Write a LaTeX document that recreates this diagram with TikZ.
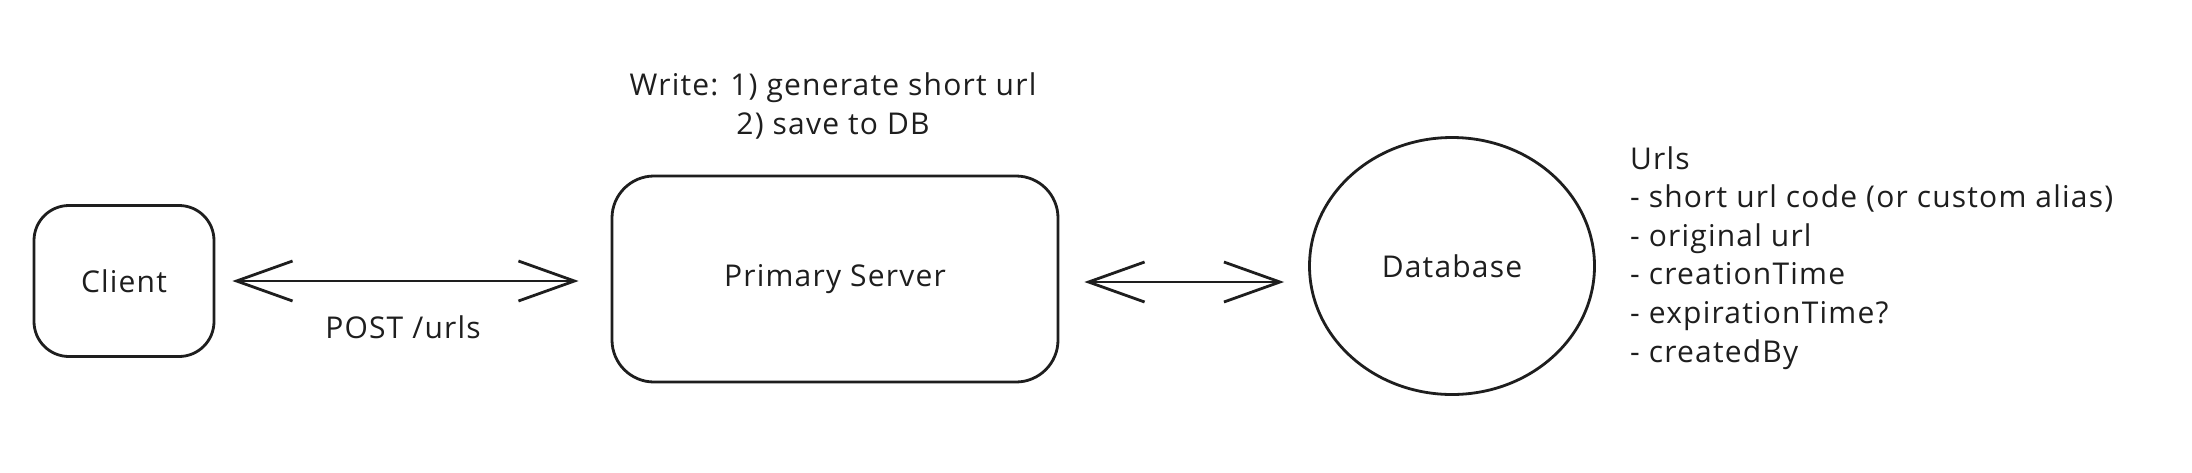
\documentclass[tikz,border=0pt]{standalone}
\usepackage{fontspec}
\setmainfont[Ligatures=NoCommon, LetterSpace=4]{Open Sans}
\usetikzlibrary{arrows.meta,shapes.geometric}
\definecolor{ink}{HTML}{1E1E1E}
\tikzset{
  sketch/.style={draw=ink, line width=2.8pt, line cap=round, line join=round},
  boxnode/.style={sketch, rectangle, text=ink},
  txt/.style={font=\fontsize{30}{38.6}\selectfont},
  lbl/.style={txt, text=ink, inner sep=0pt},
  arr/.style={sketch, {Straight Barb[length=56pt,width=40pt,line width=2.8pt]}-{Straight Barb[length=56pt,width=40pt,line width=2.8pt]}}
}
\begin{document}
\begin{tikzpicture}[x=1pt,y=-1pt]
\useasboundingbox[fill=white] (0,0) rectangle (2192,472);
\node[boxnode, txt, minimum width=180pt, minimum height=151pt, rounded corners=35pt] (client) at (124,281) {Client};
\node[boxnode, txt, minimum width=446pt, minimum height=206pt, rounded corners=42pt] (server) at (835,279) {Primary Server};
\node[sketch, txt, ellipse, minimum width=285pt, minimum height=257pt, text=ink] (db) at (1452,266) {Database};
\draw[arr, shorten <=17pt, shorten >=32pt] (client.east) -- (client.east -| server.west);
\draw[arr, shorten <=25pt, shorten >=24pt] ([yshift=-3pt]server.east) -- ([yshift=-3pt]server.east -| db.west);
\node[lbl] (post) at (403,327) {POST /urls};
\node[lbl, align=center] (write) at (833,106) {Write: 1) generate short url\\2) save to DB};
\node[lbl, align=left, anchor=north west] (urls) at (1630,146) {Urls\\- short url code (or custom alias)\\- original url\\- creationTime\\- expirationTime?\\- createdBy};
\end{tikzpicture}
\end{document}
